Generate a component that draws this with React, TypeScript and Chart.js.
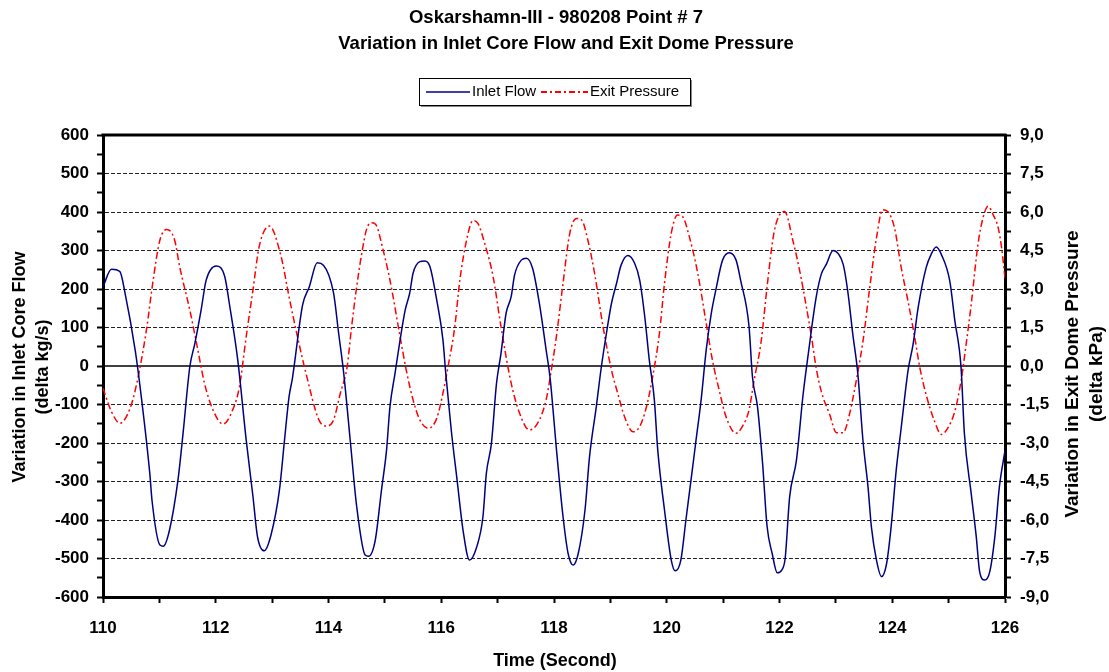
import { useEffect, useRef } from 'react';
import { Chart, registerables } from 'chart.js';

Chart.register(...registerables);

const FONT = "'Liberation Sans', Arial, sans-serif";

const titleLines = ['Oskarshamn-III - 980208 Point # 7', 'Variation in Inlet Core Flow and Exit Dome Pressure'];
const seriesNames = ['Inlet Flow', 'Exit Pressure'];
const leftAxisTitle = ['Variation in Inlet Core Flow', '(delta kg/s)'];
const rightAxisTitle = ['Variation in Exit Dome Pressure', '(delta kPa)'];
const xAxisTitle = 'Time (Second)';

const timeRange = [110, 126];
const flowRange = [-600, 600];
const pressureRange = [-9, 9];

const flowTime = [
  110.0, 110.15, 110.3, 110.39, 110.57, 110.65, 110.83, 110.87, 111.01, 111.07, 111.18, 111.33, 111.42, 111.54,
  111.63, 111.74, 111.83, 112.01, 112.16, 112.24, 112.39, 112.54, 112.66, 112.74, 112.86, 112.98, 113.13, 113.22,
  113.3, 113.36, 113.54, 113.66, 113.8, 113.91, 114.09, 114.18, 114.27, 114.39, 114.5, 114.65, 114.71,
  114.83, 114.94, 115.03, 115.09, 115.18, 115.27, 115.36, 115.44, 115.5, 115.62, 115.71, 115.8, 115.92, 116.03,
  116.08, 116.18, 116.28, 116.39, 116.5, 116.62, 116.74, 116.8, 116.89, 116.98, 117.06, 117.15, 117.24,
  117.3, 117.42, 117.51, 117.62, 117.74, 117.86, 117.93, 118.05, 118.16, 118.25, 118.34, 118.43, 118.55, 118.63,
  118.75, 118.84, 118.93, 119.02, 119.11, 119.19, 119.31, 119.43, 119.52, 119.61, 119.69, 119.78, 119.84, 119.96,
  120.08, 120.15, 120.25, 120.34, 120.46, 120.52, 120.61, 120.7, 120.79, 120.87, 120.99, 121.11, 121.23, 121.31,
  121.46, 121.52, 121.61, 121.7, 121.78, 121.87, 121.96, 122.04, 122.1, 122.18, 122.3, 122.42, 122.51, 122.65,
  122.74, 122.83, 122.95, 123.04, 123.13, 123.21, 123.3, 123.39, 123.48, 123.57, 123.63, 123.72, 123.81, 123.9,
  123.98, 124.07, 124.16, 124.28, 124.37, 124.46, 124.6, 124.69, 124.78, 124.87, 125.02, 125.11, 125.22, 125.28,
  125.4, 125.49, 125.55, 125.64, 125.73, 125.82, 125.9, 126.0,
];
const flowValues = [
  206, 251, 245, 190, 42, -45, -279, -350, -465, -468, -426, -296, -175, -2,
  59, 145, 223, 260, 232, 163, 16, -192, -339, -443, -480, -439, -322, -192,
  -80, -32, 158, 206, 268, 262, 189, 85, -19, -200, -365, -491, -494,
  -452, -322, -218, -106, -19, 68, 145, 189, 241, 271, 273, 258, 171, 68,
  -19, -170, -295, -430, -504, -474, -391, -279, -201, -45, 33, 137, 180,
  236, 275, 280, 254, 163, 42, -30, -227, -391, -487, -517, -487, -374, -236,
  -106, -2, 85, 163, 215, 262, 287, 267, 223, 128, 16, -88, -218, -374,
  -504, -532, -504, -400, -262, -192, -88, 42, 137, 197, 275, 294, 275, 223,
  102, -28, -106, -253, -417, -487, -537, -530, -500, -340, -245, -72, 31, 178,
  238, 264, 300, 292, 264, 195, 83, -21, -193, -314, -418, -504, -547, -513,
  -418, -271, -159, -12, 57, 152, 255, 290, 309, 290, 221, 118, -3, -176,
  -331, -443, -534, -556, -534, -443, -314, -220,
];

const pressureTime = [
  110.0, 110.15, 110.3, 110.48, 110.6, 110.77, 110.89, 111.01, 111.13, 111.27, 111.36, 111.54, 111.66, 111.8,
  111.95, 112.13, 112.3, 112.42, 112.54, 112.66, 112.77, 112.95, 113.16, 113.3, 113.45, 113.6, 113.83, 113.97,
  114.09, 114.21, 114.33, 114.41, 114.5, 114.59, 114.68, 114.77, 114.86, 114.94, 115.09, 115.27, 115.39, 115.5,
  115.62, 115.77, 115.92, 116.03, 116.12, 116.24, 116.33, 116.45, 116.56, 116.65, 116.77, 116.92, 117.06, 117.24,
  117.39, 117.56, 117.71, 117.86, 117.95, 118.05, 118.16, 118.28, 118.4, 118.49, 118.6, 118.72, 118.87, 119.02,
  119.13, 119.25, 119.4, 119.52, 119.64, 119.75, 119.87, 119.96, 120.08, 120.19, 120.28, 120.4, 120.55, 120.7,
  120.81, 120.93, 121.05, 121.23, 121.34, 121.46, 121.55, 121.67, 121.78, 121.9, 122.02, 122.09, 122.24, 122.36,
  122.48, 122.57, 122.65, 122.74, 122.89, 123.01, 123.13, 123.24, 123.36, 123.48, 123.6, 123.72, 123.83, 123.92,
  124.04, 124.16, 124.28, 124.4, 124.49, 124.6, 124.75, 124.87, 124.99, 125.11, 125.22, 125.31, 125.4, 125.52,
  125.61, 125.7, 125.79, 125.88, 125.94, 126.0,
];
const pressureValues = [
  -0.87, -1.78, -2.23, -1.65, -0.67, 1.4, 3.35, 4.91, 5.32, 4.91, 3.87, 2.18, 0.88, -0.67,
  -1.71, -2.26, -1.71, -0.81, 1.14, 2.96, 4.65, 5.45, 4.26, 2.7, 1.14, -0.28, -2.1, -2.34,
  -2.1, -1.06, -0.03, 1.53, 3.09, 4.39, 5.36, 5.58, 5.43, 4.78, 3.35, 1.14, -0.28, -1.32,
  -2.1, -2.43, -2.04, -1.06, -0.03, 1.53, 3.35, 4.91, 5.66, 5.56, 4.78, 3.48, 1.53, -0.67,
  -1.84, -2.49, -2.23, -1.32, -0.2, 1.27, 3.22, 5.17, 5.75, 5.69, 4.91, 3.61, 1.53, -0.16,
  -1.06, -1.97, -2.56, -2.36, -1.59, -0.42, 1.27, 3.22, 5.17, 5.88, 5.82, 5.04, 3.61, 1.66,
  0.23, -0.94, -1.97, -2.62, -2.36, -1.71, -0.55, 0.88, 3.09, 5.17, 5.95, 6.02, 4.86, 3.69,
  2.26, 1.1, -0.07, -0.98, -1.89, -2.6, -2.6, -1.89, -0.59, 0.96, 3.04, 4.99, 6.09, 6.02,
  5.38, 3.82, 2.52, 1.1, -0.07, -1.11, -2.15, -2.67, -2.4, -1.76, -0.59, 0.84, 2.39, 4.73,
  5.77, 6.22, 5.89, 5.38, 4.6, 3.43,
];

const FLOW_COLOR = '#000080';
const PRESSURE_COLOR = '#ff0000';
const PRESSURE_DASH = [7, 3, 2, 3];

const isMultiple = (v: number, step: number) => Math.abs(v / step - Math.round(v / step)) < 1e-6;

const decorPlugin = {
  id: 'decor',
  beforeDatasetsDraw(chart: any) {
    const { ctx, chartArea: a, scales } = chart;
    const y0 = scales.yFlow.getPixelForValue(0);
    ctx.save();
    ctx.strokeStyle = '#000';
    ctx.lineWidth = 1.5;
    ctx.beginPath();
    ctx.moveTo(a.left, y0);
    ctx.lineTo(a.right, y0);
    ctx.stroke();
    ctx.restore();
  },
  afterDraw(chart: any) {
    const { ctx, chartArea: a } = chart;
    ctx.save();
    // top frame
    ctx.strokeStyle = '#000';
    ctx.lineWidth = 3;
    ctx.beginPath();
    ctx.moveTo(a.left - 1.5, a.top);
    ctx.lineTo(a.right + 1.5, a.top);
    ctx.stroke();

    ctx.fillStyle = '#000';
    ctx.textAlign = 'center';
    ctx.textBaseline = 'middle';
    // title
    ctx.font = `bold 18.5px ${FONT}`;
    ctx.fillText(titleLines[0], 556, 18);
    ctx.fillText(titleLines[1], 566, 44);

    // x axis title
    ctx.font = `bold 18px ${FONT}`;
    ctx.fillText(xAxisTitle, 555, 661);

    // left axis title
    ctx.save();
    ctx.translate(20, 367);
    ctx.rotate(-Math.PI / 2);
    ctx.fillText(leftAxisTitle[0], 0, 0);
    ctx.fillText(leftAxisTitle[1], 0, 23);
    ctx.restore();

    // right axis title
    ctx.font = `bold 19px ${FONT}`;
    ctx.save();
    ctx.translate(1073, 374);
    ctx.rotate(-Math.PI / 2);
    ctx.fillText(rightAxisTitle[0], 0, 0);
    ctx.fillText(rightAxisTitle[1], 0, 24);
    ctx.restore();

    // legend
    const bx = 419, by = 78, bw = 271, bh = 27;
    ctx.fillStyle = '#888';
    ctx.fillRect(bx + 2, by + 2, bw, bh);
    ctx.fillStyle = '#fff';
    ctx.fillRect(bx, by, bw, bh);
    ctx.strokeStyle = '#000';
    ctx.lineWidth = 1;
    ctx.strokeRect(bx + 0.5, by + 0.5, bw, bh);
    const ly = by + bh / 2 + 0.5;
    ctx.strokeStyle = FLOW_COLOR;
    ctx.lineWidth = 1.5;
    ctx.beginPath();
    ctx.moveTo(426, ly);
    ctx.lineTo(470, ly);
    ctx.stroke();
    ctx.strokeStyle = PRESSURE_COLOR;
    ctx.lineWidth = 2;
    ctx.setLineDash([6, 3, 2, 3]);
    ctx.beginPath();
    ctx.moveTo(541, ly);
    ctx.lineTo(588, ly);
    ctx.stroke();
    ctx.setLineDash([]);
    ctx.fillStyle = '#000';
    ctx.textAlign = 'left';
    ctx.font = `15px ${FONT}`;
    ctx.fillText(seriesNames[0], 472, ly);
    ctx.fillText(seriesNames[1], 590, ly);
    ctx.restore();
  },
};

export default function App() {
  const ref = useRef<HTMLCanvasElement | null>(null);

  useEffect(() => {
    if (!ref.current) return;
    const tickFont = { family: FONT, size: 17, weight: 'bold' as const };
    const chart = new Chart(ref.current, {
      type: 'line',
      data: {
        datasets: [
          {
            label: seriesNames[0],
            data: flowTime.map((t, i) => ({ x: t, y: flowValues[i] })),
            yAxisID: 'yFlow',
            borderColor: FLOW_COLOR,
            borderWidth: 1.5,
            pointRadius: 0,
            cubicInterpolationMode: 'monotone',
            fill: false,
          },
          {
            label: seriesNames[1],
            data: pressureTime.map((t, i) => ({ x: t, y: pressureValues[i] })),
            yAxisID: 'yPress',
            borderColor: PRESSURE_COLOR,
            borderWidth: 1.5,
            borderDash: PRESSURE_DASH,
            pointRadius: 0,
            cubicInterpolationMode: 'monotone',
            fill: false,
          },
        ],
      },
      options: {
        animation: false,
        responsive: false,
        devicePixelRatio: 1,
        layout: { padding: { top: 135, left: 0, right: 0, bottom: 0 } },
        plugins: {
          legend: { display: false },
          title: { display: false },
          tooltip: { enabled: false },
        },
        scales: {
          x: {
            type: 'linear',
            position: 'bottom',
            min: timeRange[0],
            max: timeRange[1],
            ticks: {
              stepSize: 1,
              autoSkip: false,
              maxRotation: 0,
              padding: 15,
              color: '#000',
              font: tickFont,
              callback: (v: any) => (isMultiple(Number(v), 2) ? String(v) : ''),
            },
            grid: { drawOnChartArea: false, tickLength: 6, tickWidth: 2, tickColor: '#000' },
            border: { display: true, color: '#000', width: 3 },
            afterFit: (s: any) => {
              s.height = 75;
            },
          },
          yFlow: {
            type: 'linear',
            position: 'left',
            min: flowRange[0],
            max: flowRange[1],
            ticks: {
              stepSize: 50,
              autoSkip: false,
              padding: 8,
              color: '#000',
              font: tickFont,
              callback: (v: any) => (isMultiple(Number(v), 100) ? String(v) : ''),
            },
            grid: {
              color: (c: any) => {
                const v = c.tick ? c.tick.value : 1;
                return isMultiple(v, 100) && v !== 0 && Math.abs(v) !== 600 ? '#222' : 'rgba(0,0,0,0)';
              },
              lineWidth: 1,
              tickLength: 6,
              tickWidth: 2,
              tickColor: '#000',
            },
            border: { display: true, color: '#000', width: 3, dash: [4, 2] },
            afterFit: (s: any) => {
              s.width = 103;
            },
          },
          yPress: {
            type: 'linear',
            position: 'right',
            min: pressureRange[0],
            max: pressureRange[1],
            ticks: {
              stepSize: 0.75,
              autoSkip: false,
              padding: 9,
              color: '#000',
              font: tickFont,
              callback: (v: any) => (isMultiple(Number(v), 1.5) ? Number(v).toFixed(1).replace('.', ',') : ''),
            },
            grid: { drawOnChartArea: false, tickLength: 6, tickWidth: 2, tickColor: '#000' },
            border: { display: true, color: '#000', width: 3 },
            afterFit: (s: any) => {
              s.width = 104;
            },
          },
        },
      },
      plugins: [decorPlugin],
    } as any);
    return () => chart.destroy();
  }, []);

  return (
    <div style={{ position: 'fixed', left: 0, top: 0, width: 1109, height: 672, background: '#fff' }}>
      <canvas ref={ref} width={1109} height={672} style={{ display: 'block' }} />
    </div>
  );
}
